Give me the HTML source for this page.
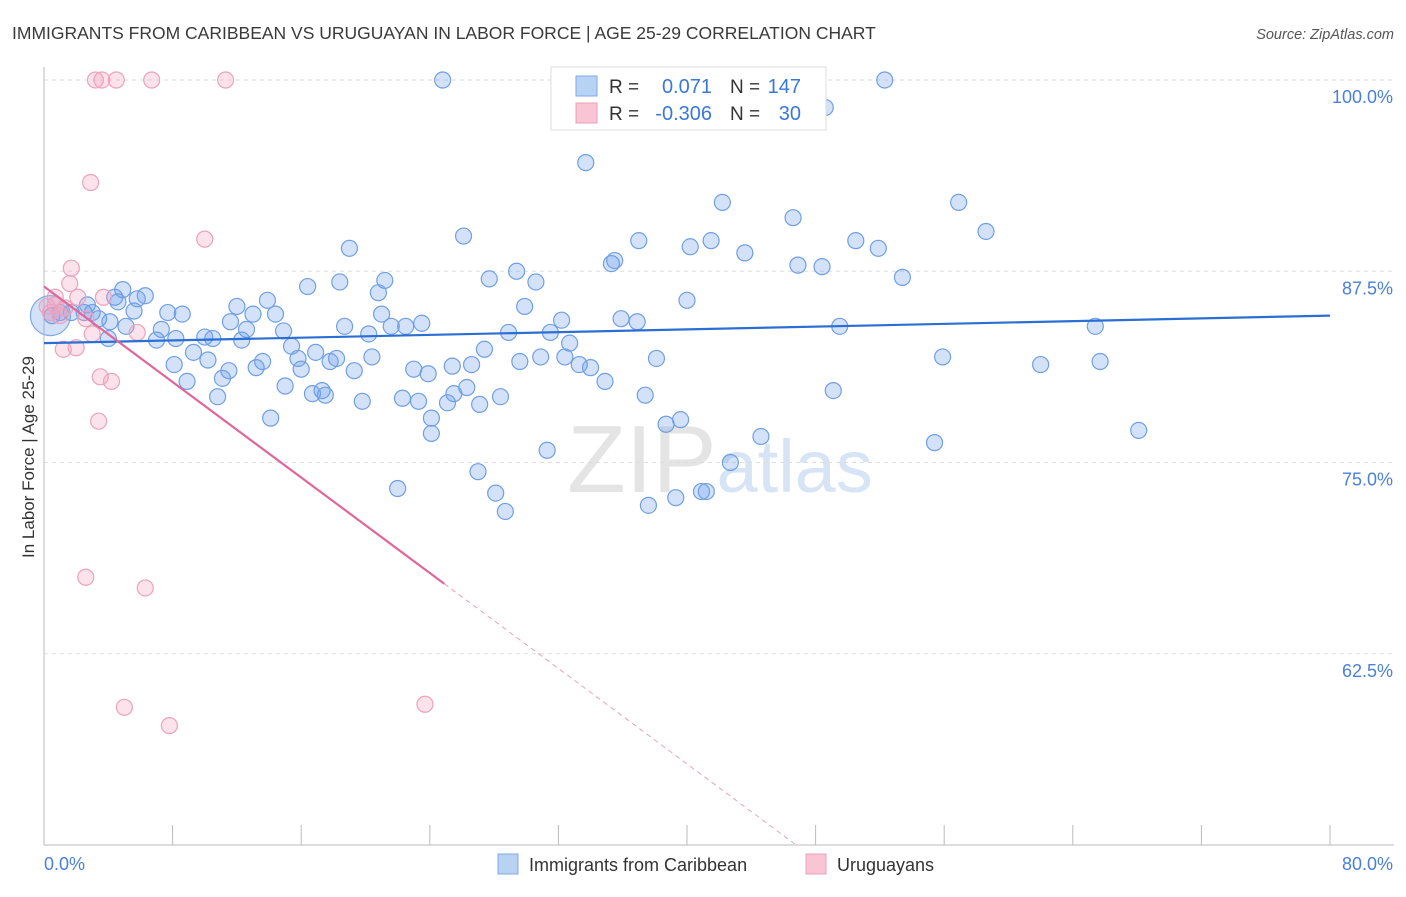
<!DOCTYPE html>
<html><head><meta charset="utf-8"><style>
body{margin:0;background:#fff;font-family:"Liberation Sans",sans-serif;}
svg text{font-family:"Liberation Sans",sans-serif;}
</style></head><body>
<svg id="chart" width="1406" height="892" xmlns="http://www.w3.org/2000/svg">
<text x="12" y="39" font-size="17.5" fill="#3a3a3a">IMMIGRANTS FROM CARIBBEAN VS URUGUAYAN IN LABOR FORCE | AGE 25-29 CORRELATION CHART</text>
<text x="1394" y="39" font-size="14.5" fill="#555" font-style="italic" text-anchor="end">Source: ZipAtlas.com</text>
<text x="720" y="492" font-size="96" text-anchor="middle" fill="#e4e4e4" font-family="Liberation Serif"><tspan>ZIP</tspan><tspan fill="#d6e4f5" font-family="Liberation Sans" font-size="74">atlas</tspan></text>
<g id="grid"></g>
<g id="axes"></g>
<g id="marks"></g>
<text transform="translate(34,457) rotate(-90)" font-size="17" fill="#333" text-anchor="middle">In Labor Force | Age 25-29</text>
<g>
<rect x="551" y="67" width="275" height="63" fill="#fff" stroke="#ddd"/>
<rect x="576" y="76" width="21" height="20" fill="#b8d2f4" stroke="#7fa9e6"/>
<rect x="576" y="103" width="21" height="20" fill="#f9c5d4" stroke="#eba0b8"/>
<text x="609" y="93" font-size="19" fill="#333">R =</text>
<text x="712" y="93" font-size="20" fill="#3a78d8" text-anchor="end">0.071</text>
<text x="730" y="93" font-size="19" fill="#333">N =</text>
<text x="801" y="93" font-size="20" fill="#3a78d8" text-anchor="end">147</text>
<text x="609" y="120" font-size="19" fill="#333">R =</text>
<text x="712" y="120" font-size="20" fill="#3a78d8" text-anchor="end">-0.306</text>
<text x="730" y="120" font-size="19" fill="#333">N =</text>
<text x="801" y="120" font-size="20" fill="#3a78d8" text-anchor="end">30</text>
</g>
<g>
<rect x="498" y="854" width="20" height="20" fill="#b8d2f4" stroke="#7fa9e6"/>
<text x="529" y="871" font-size="18" fill="#333">Immigrants from Caribbean</text>
<rect x="806" y="854" width="20" height="20" fill="#f9c5d4" stroke="#eba0b8"/>
<text x="837" y="871" font-size="18" fill="#333">Uruguayans</text>
</g>
</svg>
<script>
const blueX=[24.8,52.3,48.6,33.7,42.2,56.9,46.6,58.6,26.1,37.0,50.5,41.5,40.2,19.0,51.9,43.6,35.3,35.5,29.4,46.9,48.4,27.7,21.2,53.4,30.6,16.4,18.4,20.8,4.9,6.3,4.4,5.8,13.9,40.0,12.0,2.7,4.6,29.9,7.7,8.6,14.4,5.6,13.0,21.0,32.2,35.9,36.9,11.6,3.4,23.5,18.7,21.6,22.5,28.9,31.5,49.5,65.4,5.1,7.3,14.9,12.6,10.0,10.5,8.2,7.0,4.0,12.3,20.2,32.7,15.4,27.4,16.9,9.3,10.2,13.6,15.8,20.4,18.2,17.8,30.9,32.4,29.6,38.1,55.9,62.0,65.7,8.1,23.0,23.9,25.4,26.6,16.0,13.2,11.5,19.3,33.3,34.0,11.1,8.9,34.9,26.3,15.0,17.3,16.7,22.3,17.5,25.5,23.3,25.1,28.4,27.1,19.8,37.4,10.8,49.1,24.1,14.1,39.6,38.7,24.1,44.6,55.4,68.1,31.3,42.7,27.0,22.0,28.1,40.9,41.2,39.3,37.6,28.7,2.5,1.7,1.0,3.0,0.5,4.1];
const blueY=[100,100,98.2,94.6,92.0,92.0,91.0,90.1,89.8,89.5,89.5,89.5,89.1,89.0,89.0,88.7,88.0,88.2,87.5,87.9,87.8,87.0,86.9,87.1,86.8,86.5,86.8,86.1,86.3,85.9,85.8,85.7,85.6,85.6,85.2,85.3,85.5,85.2,84.8,84.7,84.7,84.9,84.7,84.7,84.3,84.4,84.2,84.2,84.4,84.1,83.9,83.9,83.9,83.5,83.5,83.9,83.9,83.9,83.7,83.6,83.7,83.2,83.1,83.1,83.0,83.1,83.0,83.4,82.8,82.6,82.4,82.2,82.2,81.7,81.6,81.8,81.9,81.8,81.6,81.9,81.9,81.6,81.8,81.9,81.4,81.6,81.4,81.1,80.8,81.3,81.4,81.1,81.2,81.0,81.0,81.4,81.2,80.5,80.3,80.3,79.9,80.0,79.7,79.5,79.2,79.4,79.5,79.0,78.9,79.3,78.8,79.0,79.4,79.3,79.7,77.9,77.9,77.8,77.5,76.9,76.7,76.3,77.1,75.8,75.0,74.4,73.3,73.0,73.1,73.1,72.7,72.2,71.8,84.8,84.8,84.8,84.8,84.6,84.2];
const pinkX=[3.2,4.5,6.7,11.3,3.6,2.9,10.0,1.7,1.6,0.7,2.1,3.7,0.2,1.3,2.6,1.0,5.8,3.0,1.2,2.0,3.5,4.2,3.4,2.6,6.3,5.0,7.8,23.7,0.4,0.7];
const pinkY=[100,100,100,100,100,93.3,89.6,87.7,86.7,85.8,85.8,85.8,85.2,85.1,84.4,84.6,83.5,83.4,82.4,82.5,80.6,80.3,77.7,67.5,66.8,59.0,57.8,59.2,84.8,85.3];
const bigDot=[0.4,84.6];
const blueTrend=[82.8,84.6];      // y at x=0 and x=80
const pinkTrend=[86.5,-0.78];     // intercept, slope
const pinkSolidEnd=24.9, pinkDashEnd=46.7;
const yTicks=[100,87.5,75,62.5];
const yTickLabels=["100.0%","87.5%","75.0%","62.5%"];
const xTicks=[0,8,16,24,32,40,48,56,64,72,80];

const NS="http://www.w3.org/2000/svg";
const X=v=>44+v*1286/80, Y=v=>80+(100-v)*765/50;
function mk(tag,attrs,parent){const e=document.createElementNS(NS,tag);for(const k in attrs)e.setAttribute(k,attrs[k]);parent.appendChild(e);return e;}
const grid=document.getElementById('grid'),axes=document.getElementById('axes'),marks=document.getElementById('marks');
yTicks.forEach((t,i)=>{
  const l=mk('line',{x1:44,x2:1394,y1:Y(t),y2:Y(t),stroke:'#ddd','stroke-dasharray':'4,4'},grid);
  
  
  const tx=mk('text',{x:1393,y:Y(t)+23,'font-size':18,fill:'#4a80d8','text-anchor':'end'},axes);
  tx.textContent=yTickLabels[i];
  
  
});
const ax=mk('line',{x1:44,x2:1394,y1:845,y2:845,stroke:'#bbb'},axes);


const ay=mk('line',{x1:44,x2:44,y1:67,y2:845,stroke:'#bbb'},axes);


xTicks.forEach(t=>{
  const l=mk('line',{x1:X(t),x2:X(t),y1:825,y2:845,stroke:'#bbb'},axes);
  
  
});
const xl0=mk('text',{x:44,y:870,'font-size':18,fill:'#4a80d8'},axes);xl0.textContent='0.0%';


const xl1=mk('text',{x:1393,y:870,'font-size':18,fill:'#4a80d8','text-anchor':'end'},axes);xl1.textContent='80.0%';



const bd=mk('circle',{cx:X(bigDot[0]),cy:Y(bigDot[1]),r:20,fill:'rgba(110,160,235,0.3)',stroke:'#7fa9e6','stroke-width':1.2},marks);


blueX.forEach((x,i)=>{
  const c=mk('circle',{cx:X(x),cy:Y(blueY[i]),r:8,fill:'rgba(110,160,235,0.3)',stroke:'#6f9fe4','stroke-width':1.2},marks);
  
  
});
pinkX.forEach((x,i)=>{
  const c=mk('circle',{cx:X(x),cy:Y(pinkY[i]),r:8,fill:'rgba(245,160,190,0.3)',stroke:'#eca3bb','stroke-width':1.2},marks);
  
  
});
const bl=mk('line',{x1:X(0),y1:Y(blueTrend[0]),x2:X(80),y2:Y(blueTrend[1]),stroke:'#2b6fd4','stroke-width':2.2},marks);


const pv=x=>pinkTrend[0]+pinkTrend[1]*x;
const pl=mk('line',{x1:X(0),y1:Y(pv(0)),x2:X(pinkSolidEnd),y2:Y(pv(pinkSolidEnd)),stroke:'#e0679a','stroke-width':2.2},marks);


const pd=mk('line',{x1:X(pinkSolidEnd),y1:Y(pv(pinkSolidEnd)),x2:X(pinkDashEnd),y2:Y(pv(pinkDashEnd)),stroke:'#eaa0bd','stroke-width':1,'stroke-dasharray':'5,4'},marks);


</script>
</body></html>
